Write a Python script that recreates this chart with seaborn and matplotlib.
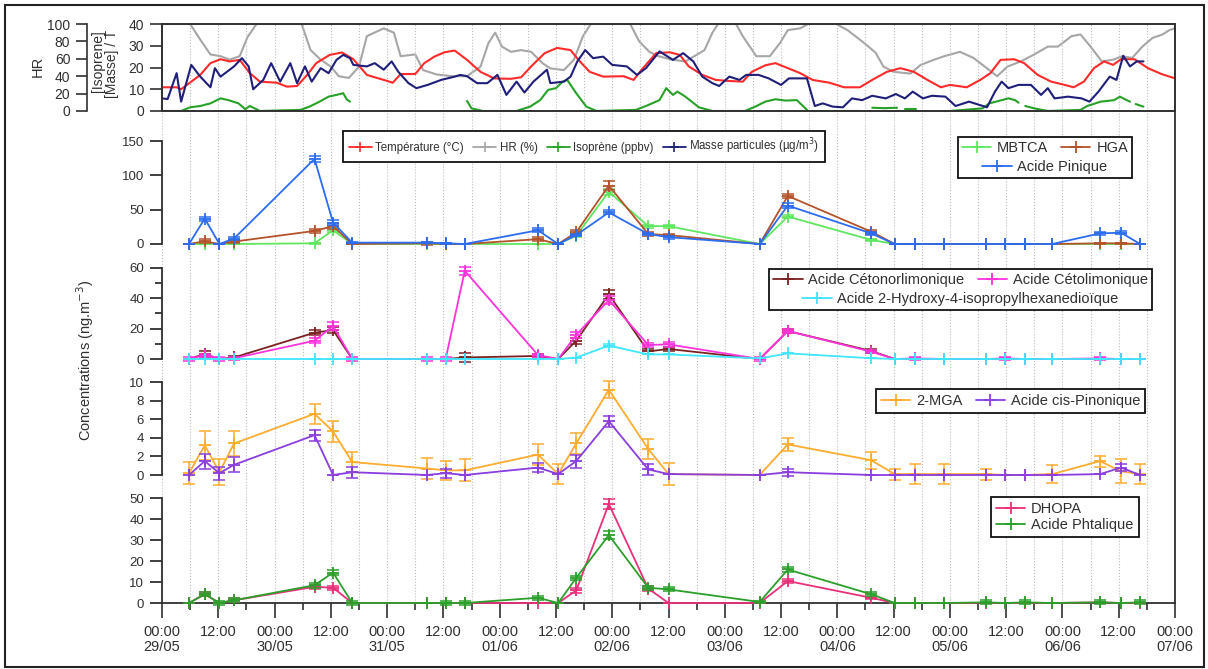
import matplotlib
matplotlib.use("Agg")
import matplotlib.pyplot as plt
from matplotlib.lines import Line2D
from matplotlib.patches import Rectangle
import numpy as np
import pandas as pd
import seaborn as sns

# ---------------- data (time in days from 29/05 00:00) ----------------
days = ['29/05', '30/05', '31/05', '01/06', '02/06', '03/06', '04/06', '05/06', '06/06', '07/06']

# top panel : meteo + mass
hr_t = [0, 0.25, 0.34, 0.43, 0.52, 0.60, 0.69, 0.76, 0.84, 1.24,
        1.32, 1.41, 1.50, 1.57, 1.66, 1.75, 1.82, 1.97, 2.06, 2.12,
        2.25, 2.32, 2.44, 2.58, 2.71, 2.83, 2.90, 2.96, 3.02, 3.10,
        3.19, 3.28, 3.38, 3.45, 3.57, 3.66, 3.74, 3.81, 4.16, 4.24,
        4.33, 4.41, 4.53, 4.65, 4.73, 4.82, 4.89, 4.94, 5.10, 5.16,
        5.28, 5.40, 5.49, 5.56, 5.67, 5.74, 5.99, 6.09, 6.24, 6.34,
        6.41, 6.50, 6.65, 6.74, 6.86, 6.95, 7.09, 7.21, 7.33, 7.42,
        7.51, 7.63, 7.75, 7.87, 7.96, 8.08, 8.16, 8.25, 8.35, 8.45,
        8.53, 8.62, 8.71, 8.80, 8.89, 8.95, 9.0]
hr_v = [100, 100, 82, 65, 63, 59, 63, 85, 100, 100,
        70, 59, 51, 40, 38, 51, 86, 95, 90, 63,
        65, 47, 42, 40, 40, 51, 78, 90, 74, 68,
        70, 68, 55, 49, 47, 59, 86, 100, 100, 80,
        68, 63, 59, 57, 63, 70, 90, 100, 100, 86,
        63, 63, 78, 93, 95, 100, 100, 93, 78, 67,
        51, 45, 43, 53, 59, 63, 68, 61, 49, 40,
        51, 57, 65, 74, 74, 86, 88, 74, 57, 59,
        63, 61, 74, 84, 88, 93, 95]

temp_t = [0, 0.13, 0.17, 0.34, 0.43, 0.52, 0.60, 0.69, 0.78, 0.87,
          1.02, 1.11, 1.20, 1.29, 1.37, 1.49, 1.60, 1.70, 1.82, 1.97,
          2.05, 2.12, 2.25, 2.33, 2.42, 2.51, 2.60, 2.71, 2.83, 2.95,
          3.10, 3.19, 3.28, 3.40, 3.51, 3.63, 3.70, 3.80, 3.92, 4.10,
          4.19, 4.27, 4.39, 4.51, 4.60, 4.68, 4.80, 4.92, 5.04, 5.16,
          5.24, 5.36, 5.45, 5.56, 5.67, 5.78, 5.93, 6.06, 6.20, 6.32,
          6.44, 6.56, 6.68, 6.80, 6.92, 7.00, 7.15, 7.27, 7.36, 7.45,
          7.57, 7.66, 7.78, 7.90, 8.02, 8.10, 8.19, 8.28, 8.37, 8.45,
          8.52, 8.64, 8.76, 8.88, 9.0]
temp_v = [10.9, 10.9, 10.0, 16.6, 22.0, 23.8, 22.8, 23.5, 17.4, 13.5,
          13.0, 11.2, 11.5, 16.6, 22.0, 25.8, 26.9, 23.8, 16.6, 14.3,
          13.0, 17.0, 17.0, 22.0, 25.0, 27.0, 27.8, 23.5, 18.0, 15.0,
          14.8, 15.5, 20.5, 26.6, 29.0, 28.0, 23.5, 18.0, 15.8, 16.0,
          14.3, 19.5, 26.6, 27.0, 25.8, 20.5, 16.6, 14.3, 13.8, 13.5,
          18.0, 21.0, 22.0, 19.7, 17.4, 14.3, 13.0, 10.9, 10.9, 14.6,
          18.0, 19.7, 18.0, 14.3, 10.9, 12.0, 10.9, 14.3, 17.4, 23.5,
          23.8, 22.0, 16.6, 13.5, 12.0, 10.9, 13.5, 19.7, 22.8, 21.2,
          23.8, 23.8, 19.7, 17.0, 15.0]

mass_t = [0, 0.05, 0.13, 0.17, 0.26, 0.34, 0.43, 0.47, 0.52, 0.64,
          0.71, 0.77, 0.81, 0.90, 0.97, 1.05, 1.14, 1.20, 1.27, 1.33,
          1.41, 1.48, 1.55, 1.61, 1.67, 1.70, 1.82, 1.89, 1.97, 2.04,
          2.10, 2.19, 2.26, 2.36, 2.48, 2.60, 2.65, 2.71, 2.80, 2.89,
          2.98, 3.06, 3.15, 3.22, 3.30, 3.42, 3.45, 3.57, 3.63, 3.69,
          3.76, 3.83, 3.92, 4.00, 4.13, 4.22, 4.30, 4.42, 4.54, 4.63,
          4.72, 4.80, 4.89, 4.95, 5.04, 5.13, 5.19, 5.30, 5.39, 5.50,
          5.57, 5.73, 5.80, 5.87, 5.96, 6.05, 6.13, 6.22, 6.31, 6.43,
          6.52, 6.60, 6.67, 6.76, 6.84, 6.96, 7.05, 7.17, 7.33, 7.40,
          7.46, 7.52, 7.61, 7.72, 7.81, 7.87, 7.93, 8.05, 8.17, 8.24,
          8.32, 8.42, 8.48, 8.54, 8.60, 8.66, 8.72]
mass_v = [5.8, 5.5, 17.4, 4.3, 21.2, 15.8, 10.9, 19.7, 15.8, 20.5,
          24.3, 20.5, 10.0, 14.3, 22.0, 13.5, 22.0, 12.8, 20.5, 13.5,
          19.7, 17.4, 23.5, 25.8, 24.3, 21.2, 20.5, 22.0, 19.0, 22.8,
          18.0, 12.8, 10.5, 12.0, 14.3, 15.8, 16.6, 16.0, 12.8, 12.8,
          16.6, 7.4, 13.5, 8.5, 13.5, 19.0, 12.8, 13.5, 15.8, 22.8,
          28.0, 24.3, 25.0, 21.2, 20.5, 16.6, 19.7, 27.4, 23.5, 26.6,
          22.8, 15.8, 12.8, 11.5, 15.8, 14.3, 16.6, 16.6, 15.0, 12.0,
          15.0, 15.0, 2.3, 3.5, 2.0, 1.7, 5.8, 5.0, 7.0, 5.8,
          7.8, 5.8, 8.9, 5.8, 7.0, 6.6, 2.3, 4.3, 1.7, 8.9,
          13.5, 10.5, 12.0, 12.0, 7.4, 10.5, 5.8, 6.6, 5.8, 4.3,
          8.9, 15.8, 14.3, 25.4, 20.5, 22.8, 22.8]

nan = np.nan
iso_t = [0, 0.17, 0.25, 0.34, 0.43, 0.52, 0.59, 0.68, 0.74, 0.78,
         0.87, 1.23, 1.31, 1.40, 1.48, 1.55, 1.61, 1.64, 1.67, 2.2,
         2.71, 2.75, 2.85, 3.15, 3.27, 3.36, 3.43, 3.50, 3.56, 3.60,
         3.68, 3.77, 3.86, 4.21, 4.30, 4.42, 4.48, 4.54, 4.58, 4.65,
         4.77, 4.89, 5.18, 5.27, 5.36, 5.45, 5.54, 5.64, 5.74, 6.20,
         6.25, 6.31, 6.42, 6.53, 6.56, 6.60, 6.70, 6.85, 7.00, 7.29,
         7.35, 7.46, 7.52, 7.58, 7.61, 7.64, 7.67, 7.75, 7.87, 8.16,
         8.22, 8.34, 8.46, 8.51, 8.57, 8.60, 8.62, 8.65, 8.72]
iso_v = [0, 0, 1.7, 2.3, 3.5, 5.8, 5.0, 3.5, 0.8, 2.3,
         0, 0.5, 2.0, 4.3, 6.6, 7.4, 8.2, 5.4, 4.3, nan,
         4.6, 1.2, 0, 0, 2.0, 5.0, 9.7, 10.5, 13.5, 14.3,
         8.2, 2.0, 0, 0.5, 2.3, 5.0, 10.5, 7.4, 8.9, 6.6,
         1.7, 0, 0, 2.0, 4.3, 5.4, 4.8, 5.0, 0, 0,
         nan, 1.5, 1.3, 1.5, nan, 0.8, 0.8, nan, 0, 1.2,
         3.5, 5.0, 5.8, 5.0, 3.8, nan, 2.3, 1.2, 0, 0.5,
         2.3, 4.3, 5.0, 6.6, 5.0, 4.3, nan, 3.2, 2.0]

# filter samples
samp_t = [0.24, 0.38, 0.51, 0.64, 1.355, 1.52, 1.69, 2.355, 2.52, 2.69,
          3.34, 3.52, 3.68, 3.97, 4.32, 4.50, 5.31, 5.56, 6.30, 6.51,
          6.69, 6.95, 7.32, 7.49, 7.67, 7.91, 8.335, 8.52, 8.69]

mbtca = [0, 0, 0, 0, 1, 20, 0, 0, 0, 0, 0, 0, 12, 76, 26, 26, 0, 40, 6, 0, 0, 0, 0, 0, 0, 0, 0, 0, 0]
mbtca_err = [0, 0, 0, 0, 1, 3, 0, 0, 0, 0, 0, 0, 2, 4, 2, 2, 0, 2, 1, 0, 0, 0, 0, 0, 0, 0, 0, 0, 0]
hga = [0, 4, 0, 3.5, 19, 26, 0, 1, 0, 0, 7, 0, 17, 85, 14.5, 13, 0, 70, 18, 0, 0, 0, 0, 0, 0, 0, 1, 1, 0]
hga_err = [0, 3, 0, 2, 3, 4, 0, 2, 0, 0, 3, 0, 3, 7, 3, 2, 0, 3, 3, 0, 0, 0, 0, 0, 0, 0, 1, 1, 0]
pinique = [0, 37, 0, 8, 124, 31, 2, 2, 1, 0, 20, 0, 13, 46, 14.5, 10, 0, 56, 15.5, 0, 0, 0, 0, 0, 0, 0, 15.5, 16.5, 0]
pinique_err = [0, 3, 0, 2, 4, 4, 1, 1, 1, 0, 3, 0, 2, 3, 2, 2, 0, 3, 2, 0, 0, 0, 0, 0, 0, 0, 2, 2, 0]

ceto_nor = [0, 3.3, 0, 1, 17.3, 19, 0, 0, 0, 1, 2, 0, 12, 42.5, 5, 6.6, 0, 18.4, 5.3, 0, 0, 0, 0, 0, 0, 0, 0, 0, 0]
ceto_nor_err = [0, 2, 0, 1, 1.5, 2, 0, 0, 0, 3, 1, 0, 2, 3, 1.5, 1.5, 0, 1.5, 1.5, 0, 0, 0, 0, 0, 0, 0, 0, 0, 0]
ceto_lim = [0, 2.6, 0, 0.5, 12, 21.7, 0, 0, 0, 58, 2.6, 0, 15.8, 38.8, 9.2, 9.6, 0, 18.4, 4.8, 0, 0.4, 0, 0, 0.4, 0, 0, 0.4, 0, 0]
ceto_lim_err = [1, 1, 1, 1, 1.5, 2.5, 1, 1, 1, 2.5, 1, 0, 2, 2.5, 1.5, 1.5, 1, 1.5, 1, 0, 1, 0, 0, 1, 0, 0, 1, 0, 0]
hydroxy = [0, 0, 0, 0, 0, 0, 0, 0, 0, 0, 0, 0, 0.9, 8.8, 3, 3, 0.4, 3.7, 0.5, 0, 0, 0, 0, 0, 0, 0, 0, 0, 0]
hydroxy_err = [0, 0, 0, 0, 0, 0, 0, 0, 0, 0, 0, 0, 0, 0.8, 0, 0, 0, 0, 0, 0, 0, 0, 0, 0, 0, 0, 0, 0, 0]

mga = [0.2, 3.2, 0.3, 3.4, 6.6, 4.7, 1.4, 0.7, 0.5, 0.5, 2.2, 0.1, 3.4, 9.2, 2.8, 0.1, 0, 3.3, 1.6, 0.1, 0.1, 0.1, 0.1, 0, 0, 0.1, 1.5, 0.4, 0.1]
mga_err = [1.2, 1.6, 1.4, 1.4, 1.1, 1.1, 1.1, 1.1, 1.0, 1.2, 1.1, 1.1, 1.1, 0.9, 1.1, 1.2, 0, 0.7, 0.9, 0.6, 1.1, 1.1, 0.6, 0, 0, 1.0, 0.6, 1.3, 1.1]
pinon = [0, 1.5, 0.2, 1.1, 4.3, 0, 0.3, 0, 0.2, 0, 0.8, 0.1, 1.5, 5.8, 0.6, 0.1, 0, 0.3, 0, 0, 0, 0, 0, 0, 0, 0, 0.1, 0.8, 0]
pinon_err = [0, 0.8, 0.7, 0.8, 0.6, 0, 0.6, 0, 0.5, 0, 0.5, 0, 0.7, 0.6, 0.6, 0, 0, 0.4, 0, 0, 0, 0, 0, 0, 0, 0, 0, 0.4, 0]

dhopa = [0, 4.2, 0, 1.3, 7.7, 7.3, 0, 0, 0, 0, 0, 0, 6, 47.3, 6.9, 0, 0, 10.5, 2.5, 0, 0, 0, 0, 0, 0, 0, 0.3, 0, 0]
dhopa_err = [0, 1, 0, 1, 1, 1, 0, 0, 0, 0, 0, 0, 1, 2.5, 1, 0, 0, 1, 0.5, 0, 0, 0, 0, 0, 0, 0, 0, 0, 0]
phtal = [0, 4.2, 0, 1.3, 8.5, 14.5, 0, 0, 0, 0, 2.5, 0, 12, 32.4, 7.3, 6.5, 0.5, 16, 4.2, 0, 0, 0, 0.3, 0, 0.3, 0, 0.3, 0, 0.3]
phtal_err = [0, 1, 1, 1, 1.2, 1.2, 1, 0, 1, 1, 1, 0, 1, 2, 1, 1, 0.5, 1, 1, 0, 0, 0, 1, 0, 1, 0, 1, 0, 1]

# ---------------- style ----------------
sns.set_style("ticks")
plt.rcParams['font.family'] = ['Liberation Sans', 'DejaVu Sans']
INK = '#303030'
plt.rcParams['axes.edgecolor'] = INK
plt.rcParams['xtick.color'] = INK
plt.rcParams['ytick.color'] = INK
plt.rcParams['text.color'] = INK

W, H = 1208, 669
X0, X1 = 162, 1175
fig = plt.figure(figsize=(W / 100, H / 100), dpi=100)


def box(x0, y0, x1, y1):
    return [x0 / W, 1 - y1 / H, (x1 - x0) / W, (y1 - y0) / H]


def grid6h(ax):
    ax.set_xticks(np.arange(0, 9.01, 0.5))
    ax.set_xticks(np.arange(0.25, 9, 0.5), minor=True)
    ax.grid(True, axis='x', which='both', ls=':', color='#bdbdbd', lw=0.8)


# background axes: grid, time axis, right frame
bg = fig.add_axes(box(X0, 111, X1, 603))
bg.set_xlim(0, 9)
bg.set_ylim(0, 1)
bg.set_yticks([])
grid6h(bg)
labels = ['00:00\n' + days[i // 2] if i % 2 == 0 else '12:00' for i in range(19)]
bg.set_xticklabels(labels, fontsize=10.5, linespacing=1.05)
bg.tick_params(axis='x', which='major', length=11, width=1.2, pad=5)
bg.tick_params(axis='x', which='minor', length=5, width=1.2)
bg.spines['left'].set_visible(False)
bg.spines['top'].set_visible(False)
for s in ['right', 'bottom']:
    bg.spines[s].set_linewidth(1.3)

# ---------------- top panel ----------------
top = fig.add_axes(box(X0, 24, X1, 111))
hr_ax = top.twinx()
top.set_zorder(hr_ax.get_zorder() + 1)
top.patch.set_visible(False)

sns.lineplot(x=hr_t, y=hr_v, ax=hr_ax, color='#a6a6a6', lw=1.5, estimator=None, sort=False)
sns.lineplot(x=temp_t, y=temp_v, ax=top, color='#ff2a2a', lw=1.5, estimator=None, sort=False)
iso = pd.DataFrame({'t': iso_t, 'v': iso_v})
iso['seg'] = iso['v'].isna().cumsum()
iso = iso.dropna()
sns.lineplot(data=iso, x='t', y='v', units='seg', estimator=None, ax=top, color='#27a127', lw=1.5)
sns.lineplot(x=mass_t, y=mass_v, ax=top, color='#1f1f7a', lw=1.5, estimator=None, sort=False)

top.set_xlim(0, 9)
top.set_ylim(0, 40)
top.set_yticks([0, 10, 20, 30, 40])
top.set_xlabel('')
top.set_ylabel('')
grid6h(top)
top.tick_params(axis='x', which='both', length=0, labelbottom=False)
top.tick_params(axis='y', length=9, width=1.2, pad=4, labelsize=10)
for s in top.spines.values():
    s.set_linewidth(1.4)

hr_ax.set_ylim(0, 100)
hr_ax.set_yticks([0, 20, 40, 60, 80, 100])
hr_ax.yaxis.set_ticks_position('left')
hr_ax.spines['left'].set_position(('outward', 54))
hr_ax.spines['left'].set_visible(True)
hr_ax.spines['left'].set_linewidth(1.2)
for s in ['right', 'top', 'bottom']:
    hr_ax.spines[s].set_visible(False)
hr_ax.tick_params(axis='y', length=8, width=1.2, pad=4, labelsize=10)
hr_ax.set_ylabel('')

fig.text(38 / W, 1 - 66 / H, 'HR', rotation=90, ha='center', va='center', fontsize=10.5)
fig.text(105 / W, 1 - 64 / H, '[Isoprene]\n[Masse] / T', rotation=90, ha='center', va='center',
         multialignment='right', fontsize=10, linespacing=1.05)

meteo_handles = [Line2D([], [], color=c, lw=1.3, marker='+', ms=7, mew=1.2) for c in
                 ['#ff2a2a', '#a6a6a6', '#27a127', '#1f1f7a']]
meteo_labels = ['Température (°C)', 'HR (%)', 'Isoprène (ppbv)', 'Masse particules (µg/m$^3$)']
fig.legend(meteo_handles, meteo_labels, loc='upper left', bbox_to_anchor=(343 / W, 1 - 131 / H),
           ncol=4, fontsize=8.3, frameon=True, fancybox=False, edgecolor='#111', framealpha=1,
           borderaxespad=0, handlelength=2.0, handletextpad=0.3, columnspacing=0.8,
           borderpad=0.5).get_frame().set_linewidth(1.3)


# ---------------- concentration panels ----------------
def panel(top_px, bot_px, zero_px, vmax_px, vmax, ticks, minor=None):
    ax = fig.add_axes(box(X0, top_px, X1, bot_px))
    ax.patch.set_visible(False)
    k = (zero_px - vmax_px) / vmax
    ax.set_ylim(-(bot_px - zero_px) / k, vmax + (vmax_px - top_px) / k)
    ax.set_xlim(0, 9)
    ax.set_xticks([])
    for s in ['top', 'right', 'bottom']:
        ax.spines[s].set_visible(False)
    ax.spines['left'].set_bounds(0, vmax)
    ax.spines['left'].set_linewidth(1.3)
    ax.set_yticks(ticks)
    if minor is not None:
        ax.set_yticks(minor, minor=True)
    ax.tick_params(axis='y', which='major', length=9, width=1.3, pad=4, labelsize=9.5)
    ax.tick_params(axis='y', which='minor', length=5, width=1.3)
    return ax


def series(ax, y, err, color):
    sns.lineplot(x=samp_t, y=y, ax=ax, color=color, lw=1.3, marker='+', markersize=8,
                 markeredgewidth=1.3, markeredgecolor=color,
                 estimator=None, sort=False, clip_on=False)
    line = ax.lines[-1]
    t, v, e = np.array(samp_t), np.array(y, float), np.array(err, float)
    m = e > 0
    ax.errorbar(t[m], v[m], yerr=e[m], fmt='none', ecolor=color, elinewidth=1.1,
                capsize=4, capthick=1.1, clip_on=False)
    return line


LEG = dict(fontsize=10.5, handlelength=2.0, handletextpad=0.4, columnspacing=0.9,
           borderaxespad=0, borderpad=0.35, labelspacing=0.15)


def framed_legend(ax, x0, y0, ncol):
    # single framed legend, upper-left corner at pixel (x0, y0)
    lg = ax.legend(loc='upper left', bbox_to_anchor=(x0 / W, 1 - y0 / H),
                   bbox_transform=fig.transFigure, ncol=ncol, frameon=True,
                   fancybox=False, edgecolor='#111', framealpha=1, **LEG)
    lg.get_frame().set_linewidth(1.3)


def two_row_legend(row1, row2, x0, y0, x1, y1):
    # Igor-like legend: two entries on the first row, one centred below
    cx = (x0 + x1) / 2 / W
    fig.patches.append(Rectangle((x0 / W, 1 - y1 / H), (x1 - x0) / W, (y1 - y0) / H,
                                 transform=fig.transFigure, fill=True, fc='white',
                                 ec='#111', lw=1.3, zorder=3))
    dy = (y1 - y0) / 4
    for (hs, ls), yc in [(row1, y0 + dy * 1.05), (row2, y0 + dy * 2.95)]:
        fig.legend(hs, ls, loc='center', bbox_to_anchor=(cx, 1 - yc / H), ncol=len(hs),
                   frameon=False, **LEG)


p1 = panel(118, 252, 244, 141, 150, [0, 50, 100, 150])
h_mb = series(p1, mbtca, mbtca_err, '#5fe65f')
h_hg = series(p1, hga, hga_err, '#b4522a')
h_pi = series(p1, pinique, pinique_err, '#2b6cf0')
p1.legend_ = None
two_row_legend(([h_mb, h_hg], ['MBTCA', 'HGA']), ([h_pi], ['Acide Pinique']), 958, 137, 1132, 178)

p2 = panel(255, 367, 359, 267.7, 60, [0, 20, 40, 60], [10, 30, 50])
h_cn = series(p2, ceto_nor, ceto_nor_err, '#7a2222')
h_cl = series(p2, ceto_lim, ceto_lim_err, '#ff33dd')
h_hy = series(p2, hydroxy, hydroxy_err, '#3fe6ff')
p2.legend_ = None
two_row_legend(([h_cn, h_cl], ['Acide Cétonorlimonique', 'Acide Cétolimonique']),
               ([h_hy], ['Acide 2-Hydroxy-4-isopropylhexanedioïque']), 769, 269, 1152, 310)

p3 = panel(372, 485, 475, 382.3, 10, [0, 2, 4, 6, 8, 10])
h_mg = series(p3, mga, mga_err, '#ffac30')
h_po = series(p3, pinon, pinon_err, '#8b3de0')
h_mg.set_label('2-MGA')
h_po.set_label('Acide cis-Pinonique')
framed_legend(p3, 876, 389, 2)

p4 = panel(490, 603, 603, 498.3, 50, [0, 10, 20, 30, 40, 50])
h_dh = series(p4, dhopa, dhopa_err, '#e8307a')
h_ph = series(p4, phtal, phtal_err, '#2aa02a')
h_dh.set_label('DHOPA')
h_ph.set_label('Acide Phtalique')
framed_legend(p4, 991, 497, 1)

fig.text(85 / W, 1 - 360 / H, 'Concentrations (ng.m$^{-3}$)', rotation=90, ha='center', va='center',
         fontsize=10.5)

fig.patches.append(Rectangle((5 / W, 1 - 667 / H), 1199 / W, 662 / H, transform=fig.transFigure,
                             fill=False, ec='#222', lw=1.5))

fig.savefig('out.png', dpi=100)
